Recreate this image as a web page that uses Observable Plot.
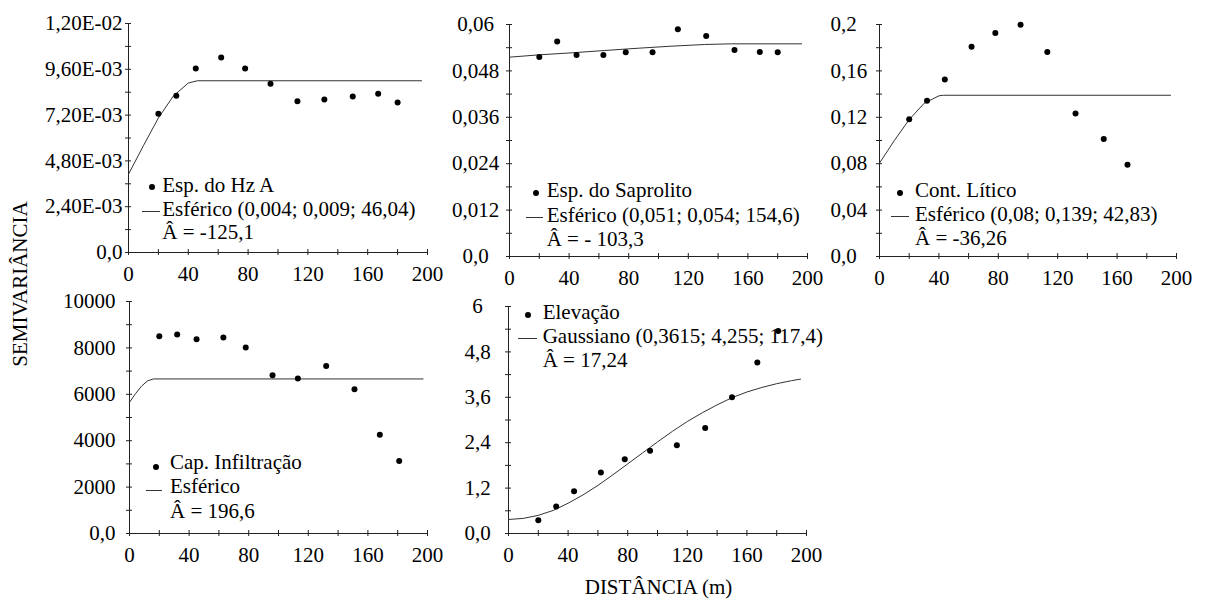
<!DOCTYPE html>
<html><head><meta charset="utf-8">
<script src="https://cdn.jsdelivr.net/npm/d3@7"></script>
<script src="https://cdn.jsdelivr.net/npm/@observablehq/plot@0.6"></script>
<style>
body{margin:0;background:#fff;}
#page{position:relative;width:1206px;height:602px;font-family:"Liberation Serif","DejaVu Serif",Tinos,"Times New Roman",Times,serif;color:#000;overflow:hidden;background:#fff}
.lg{position:absolute;font-size:21px;line-height:21px;white-space:nowrap;color:#000;font-family:"Liberation Serif","DejaVu Serif",Tinos,"Times New Roman",Times,serif}
.dot{position:absolute;width:6px;height:6px;border-radius:50%;background:#000}
.ln{position:absolute;height:0;border-top:1px solid #333}
svg text{font-family:"Liberation Serif","DejaVu Serif",Tinos,"Times New Roman",Times,serif}
</style></head><body><div id="page"></div>
<script>
// ---------- data ----------
const xMajor = [0, 40, 80, 120, 160, 200];
const xMinor = [0, 20, 40, 60, 80, 100, 120, 140, 160, 180, 200];

// Panel 1: Esp. do Hz A
const lag1 = [20, 32, 45, 62, 78, 95, 113, 131, 150, 167, 180];
const semi1 = [0.00727, 0.00821, 0.00964, 0.01022, 0.00964, 0.00884, 0.00793, 0.00802, 0.00817, 0.00832, 0.00786];
const fitLag1 = [0, 10, 20, 30, 40, 46, 196];
const fit1 = [0.0041, 0.0056, 0.00705, 0.0082, 0.00888, 0.0090, 0.0090];
const yTicks1 = [0, 0.0024, 0.0048, 0.0072, 0.0096, 0.012];
const yLabels1 = ["0,0", "2,40E-03", "4,80E-03", "7,20E-03", "9,60E-03", "1,20E-02"];
const yMinor1 = [0, 0.0012, 0.0024, 0.0036, 0.0048, 0.006, 0.0072, 0.0084, 0.0096, 0.0108, 0.012];
const legend1 = ["Esp. do Hz A", "Esférico (0,004; 0,009; 46,04)", "Â = -125,1"];

// Panel 2: Esp. do Saprolito
const lag2 = [20, 32, 45, 63, 78, 96, 113, 132, 151, 168, 180];
const semi2 = [0.0516, 0.0556, 0.0521, 0.0521, 0.0528, 0.0528, 0.0588, 0.0570, 0.0534, 0.0529, 0.0528];
const fitLag2 = [0, 20, 42, 64, 87, 109, 131, 149, 196];
const fit2 = [0.05155, 0.05216, 0.05268, 0.05328, 0.05388, 0.0544, 0.05483, 0.055, 0.055];
const yTicks2 = [0, 0.012, 0.024, 0.036, 0.048, 0.06];
const yLabels2 = ["0,0", "0,012", "0,024", "0,036", "0,048", "0,06"];
const yMinor2 = [0, 0.006, 0.012, 0.018, 0.024, 0.03, 0.036, 0.042, 0.048, 0.054, 0.06];
const legend2 = ["Esp. do Saprolito", "Esférico (0,051; 0,054; 154,6)", "Â = - 103,3"];

// Panel 3: Cont. Lítico
const lag3 = [20, 32, 44, 62, 78, 95, 113, 132, 151, 167];
const semi3 = [0.1184, 0.1342, 0.1526, 0.1808, 0.1926, 0.1997, 0.1762, 0.1233, 0.1012, 0.0791];
const fitLag3 = [0, 10, 20, 30, 40, 43, 196];
const fit3 = [0.0805, 0.100, 0.118, 0.132, 0.1385, 0.139, 0.139];
const yTicks3 = [0, 0.04, 0.08, 0.12, 0.16, 0.2];
const yLabels3 = ["0,0", "0,04", "0,08", "0,12", "0,16", "0,2"];
const yMinor3 = [0, 0.02, 0.04, 0.06, 0.08, 0.1, 0.12, 0.14, 0.16, 0.18, 0.2];
const legend3 = ["Cont. Lítico", "Esférico (0,08; 0,139; 42,83)", "Â = -36,26"];

// Panel 4: Cap. Infiltração
const lag4 = [20, 32, 45, 63, 78, 96, 113, 132, 151, 168, 181];
const semi4 = [8502, 8576, 8373, 8446, 8015, 6819, 6677, 7225, 6215, 4260, 3125];
const fitLag4 = [0, 4, 8, 12, 16, 197];
const fit4 = [5654, 6024, 6347, 6575, 6662, 6662];
const yTicks4 = [0, 2000, 4000, 6000, 8000, 10000];
const yLabels4 = ["0,0", "2000", "4000", "6000", "8000", "10000"];
const yMinor4 = [0, 1000, 2000, 3000, 4000, 5000, 6000, 7000, 8000, 9000, 10000];
const legend4 = ["Cap. Infiltração", "Esférico", "Â = 196,6"];

// Panel 5: Elevação
const lag5 = [20, 32, 44, 62, 78, 95, 113, 132, 150, 167, 181];
const semi5 = [0.351, 0.713, 1.117, 1.610, 1.961, 2.19, 2.33, 2.79, 3.60, 4.52, 5.35];
const fitLag5 = [0, 10, 20, 30, 40, 50, 60, 70, 80, 90, 100, 110, 120, 130, 140, 150, 160, 170, 180, 190, 196];
const fit5 = [0.37, 0.40, 0.48, 0.61, 0.80, 1.02, 1.27, 1.55, 1.84, 2.13, 2.42, 2.70, 2.96, 3.19, 3.40, 3.59, 3.74, 3.86, 3.96, 4.04, 4.08];
const yTicks5 = [0, 1.2, 2.4, 3.6, 4.8, 6];
const yLabels5 = ["0,0", "1,2", "2,4", "3,6", "4,8", "6"];
const yMinor5 = [0, 0.6, 1.2, 1.8, 2.4, 3.0, 3.6, 4.2, 4.8, 5.4, 6];
const legend5 = ["Elevação", "Gaussiano (0,3615; 4,255; 117,4)", "Â = 17,24"];

const yTitle = "SEMIVARIÂNCIA";
const xTitle = "DISTÂNCIA (m)";

// ---------- drawing ----------
const FONT = "'Liberation Serif', 'DejaVu Serif', Tinos, 'Times New Roman', Times, serif";
const page = document.getElementById("page");
const AX = "#222";

function panel(c) {
  const pts = c.lag.map((d, i) => ({x: d, y: c.semi[i]}));
  const curve = c.fitLag.map((d, i) => ({x: d, y: c.fit[i]}));
  const svg = Plot.plot({
    width: c.width, height: c.height,
    marginLeft: c.mL, marginRight: c.mR, marginTop: c.mT, marginBottom: c.mB,
    style: {fontSize: "21px", fontFamily: FONT, color: "#000", background: "transparent", overflow: "visible"},
    x: {domain: [0, 200]},
    y: {domain: [c.yTicks[0], c.yTicks[c.yTicks.length - 1]]},
    marks: [
      Plot.ruleY([c.yTicks[0]], {stroke: AX, strokeWidth: 1}),
      Plot.ruleX([xMajor[0]], {stroke: AX, strokeWidth: 1}),
      Plot.axisX(xMinor, {tickSize: 6, dy: -3, tickFormat: () => "", label: null, stroke: AX}),
      Plot.axisY(c.yMinor, {tickSize: 6, dx: 3, tickFormat: () => "", label: null, stroke: AX}),
      Plot.axisX(xMajor, {tickSize: 0, tickPadding: 14, label: null, fill: "#000"}),
      Plot.axisY(c.yTicks, {tickSize: 0, tickPadding: c.yPad, textAnchor: c.yAnchor, label: null, fill: "#000",
        tickFormat: d => c.yLabels[c.yTicks.indexOf(d)]}),
      Plot.line(curve, {x: "x", y: "y", stroke: "#333", strokeWidth: 1}),
      Plot.dot(pts, {x: "x", y: "y", r: 3, fill: "#000", stroke: null})
    ]
  });
  svg.style.position = "absolute";
  svg.style.left = c.left + "px";
  svg.style.top = c.top + "px";
  page.appendChild(svg);

  // legend
  const L = c.leg;
  const d = document.createElement("div");
  d.className = "dot";
  d.style.left = (L.dot[0] - 3) + "px"; d.style.top = (L.dot[1] - 3) + "px";
  page.appendChild(d);
  const ln = document.createElement("div");
  ln.className = "ln";
  ln.style.left = L.line[0] + "px"; ln.style.width = (L.line[1] - L.line[0]) + "px"; ln.style.top = L.line[2] + "px";
  page.appendChild(ln);
  c.legend.forEach((t, i) => {
    const s = document.createElement("div");
    s.className = "lg";
    s.textContent = t;
    s.style.left = L.tx + "px";
    s.style.top = (L.base[i] - 17.6) + "px";
    page.appendChild(s);
  });
}

panel({left: 0, top: 0, width: 440, height: 290, mL: 128, mR: 13, mT: 23, mB: 38,
  lag: lag1, semi: semi1, fitLag: fitLag1, fit: fit1, yTicks: yTicks1, yLabels: yLabels1, yMinor: yMinor1,
  yAnchor: "end", yPad: 6, legend: legend1,
  leg: {dot: [151.7, 186.7], line: [141.7, 160, 211], tx: 162.3, base: [192.7, 216.7, 240]}});

panel({left: 430, top: 0, width: 400, height: 290, mL: 79, mR: 23, mT: 24, mB: 34,
  lag: lag2, semi: semi2, fitLag: fitLag2, fit: fit2, yTicks: yTicks2, yLabels: yLabels2, yMinor: yMinor2,
  yAnchor: "middle", yPad: 34, legend: legend2,
  leg: {dot: [536, 193.3], line: [525.7, 542.7, 217.3], tx: 546.7, base: [197.7, 222.7, 246.7]}});

panel({left: 820, top: 0, width: 386, height: 290, mL: 59, mR: 30, mT: 24, mB: 34,
  lag: lag3, semi: semi3, fitLag: fitLag3, fit: fit3, yTicks: yTicks3, yLabels: yLabels3, yMinor: yMinor3,
  yAnchor: "start", yPad: 49, legend: legend3,
  leg: {dot: [900.3, 192.7], line: [890.7, 909.3, 215.7], tx: 915, base: [197.3, 221.7, 245.7]}});

panel({left: 0, top: 290, width: 440, height: 290, mL: 129, mR: 13, mT: 11, mB: 47,
  lag: lag4, semi: semi4, fitLag: fitLag4, fit: fit4, yTicks: yTicks4, yLabels: yLabels4, yMinor: yMinor4,
  yAnchor: "end", yPad: 14, legend: legend4,
  leg: {dot: [156, 466.7], line: [146, 162.3, 490], tx: 170, base: [470, 494, 518.3]}});

panel({left: 440, top: 290, width: 400, height: 290, mL: 68, mR: 34, mT: 16, mB: 47,
  lag: lag5, semi: semi5, fitLag: fitLag5, fit: fit5, yTicks: yTicks5, yLabels: yLabels5, yMinor: yMinor5,
  yAnchor: "middle", yPad: 31, legend: legend5,
  leg: {dot: [528.3, 315], line: [518.3, 536.7, 338.3], tx: 542.7, base: [319.3, 343.3, 367.3]}});

// axis titles
const yt = document.createElement("div");
yt.className = "lg";
yt.textContent = yTitle;
yt.style.left = "20px"; yt.style.top = "283.5px";
yt.style.transform = "translate(-50%, -50%) rotate(-90deg)";
page.appendChild(yt);

const xt = document.createElement("div");
xt.className = "lg";
xt.textContent = xTitle;
xt.style.left = "658.5px"; xt.style.top = (595 - 17.6) + "px";
xt.style.transform = "translateX(-50%)";
page.appendChild(xt);
</script>
</body></html>
